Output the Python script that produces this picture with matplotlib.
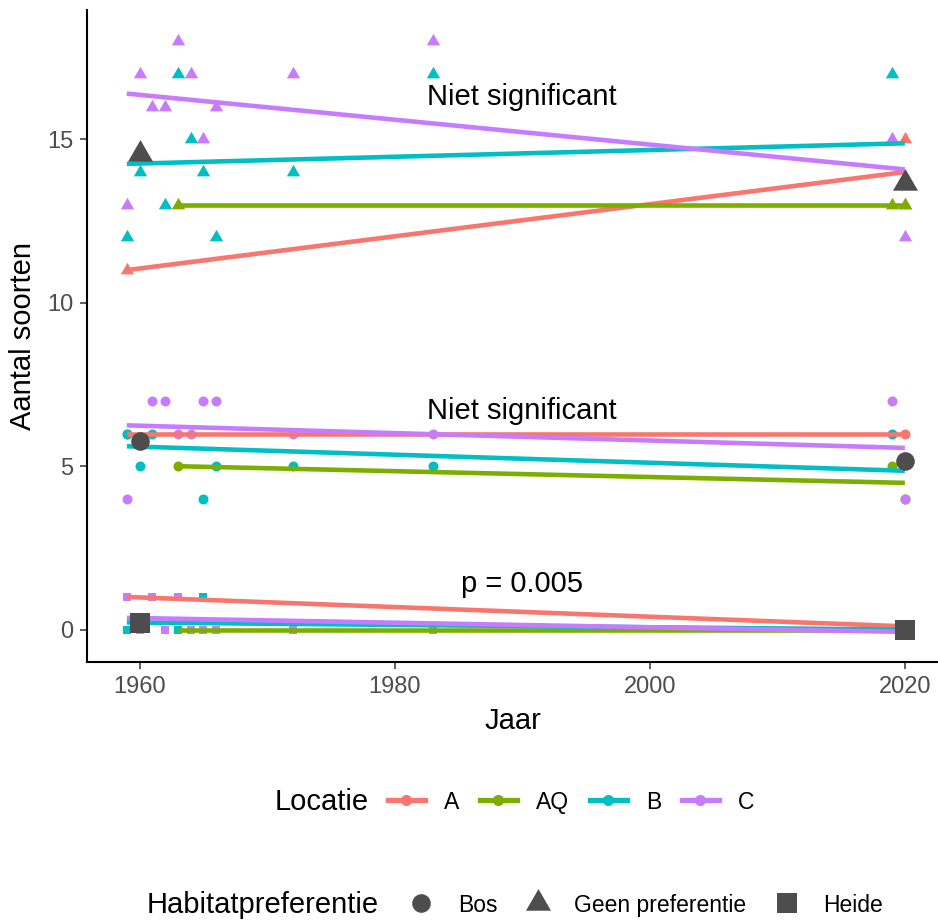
# -- coding: utf-8 --
import matplotlib
matplotlib.use('Agg')
import matplotlib.pyplot as plt
from matplotlib.lines import Line2D
from matplotlib.markers import MarkerStyle

plt.rcParams['font.family'] = ['Liberation Sans', 'DejaVu Sans']

# kleuren per locatie (ggplot standaard)
locaties = ['A', 'AQ', 'B', 'C']
kleuren = {'A': '#F8766D', 'AQ': '#7CAE00', 'B': '#00BFC4', 'C': '#C77CFF'}

# waarnemingen: (jaren, aantal soorten) per locatie
bos = {
    'A': ([1959, 2020], [6, 6]),
    'AQ': ([1963, 2019, 2020], [5, 5, 4]),
    'B': ([1959, 1960, 1961, 1965, 1966, 1972, 1983, 2019], [6, 5, 6, 4, 5, 5, 5, 6]),
    'C': ([1959, 1961, 1962, 1963, 1964, 1965, 1966, 1972, 1983, 2019, 2020],
          [4, 7, 7, 6, 6, 7, 7, 6, 6, 7, 4]),
}
geen_pref = {
    'A': ([1959, 2020, 2020], [11, 15, 13]),
    'AQ': ([1963, 2019, 2020], [13, 13, 13]),
    'B': ([1959, 1960, 1962, 1963, 1964, 1965, 1966, 1972, 1983, 2019],
          [12, 14, 13, 17, 15, 14, 12, 14, 17, 17]),
    'C': ([1959, 1960, 1961, 1962, 1963, 1964, 1965, 1966, 1972, 1983, 2019, 2020],
          [13, 17, 16, 16, 18, 17, 15, 16, 17, 18, 15, 12]),
}
heide = {
    'A': ([1959, 2020], [1, 0]),
    'AQ': ([1963, 2020], [0, 0]),
    'B': ([1959, 1963, 1965, 2020], [0, 0, 1, 0]),
    'C': ([1959, 1960, 1961, 1962, 1963, 1964, 1965, 1966, 1972, 1983, 2020],
          [1, 0, 1, 0, 1, 0, 0, 0, 0, 0, 0]),
}

trend_bos = {
    'A': ([1959, 2020], [6.0, 6.0]),
    'AQ': ([1963, 2020], [5.0, 4.49]),
    'B': ([1959, 2020], [5.61, 4.86]),
    'C': ([1959, 2020], [6.25, 5.56]),
}
trend_geen = {
    'A': ([1959, 2020], [11.0, 14.0]),
    'AQ': ([1963, 2020], [13.0, 13.0]),
    'B': ([1959, 2020], [14.25, 14.88]),
    'C': ([1959, 2020], [16.4, 14.08]),
}
trend_heide = {
    'A': ([1959, 2020], [1.0, 0.1]),
    'AQ': ([1963, 2020], [0.0, 0.0]),
    'B': ([1959, 2020], [0.22, 0.0]),
    'C': ([1959, 2020], [0.36, -0.07]),
}

# gemiddelden per habitat
gem_jaar = [1960, 2020]
gem_bos = [5.78, 5.15]
gem_geen = [14.54, 13.67]
gem_heide = [0.21, 0.0]

annotaties = [(1990, 16.3, 'Niet significant'),
              (1990, 6.7, 'Niet significant'),
              (1990, 1.4, 'p = 0.005')]

driehoek = MarkerStyle([(-1, -0.577), (1, -0.577), (0, 1.155)])
grijs = '#4D4D4D'

habitats = [
    (bos, trend_bos, gem_bos, 'o', 7.2, 13.4),
    (geen_pref, trend_geen, gem_geen, driehoek, 11.1, 20.8),
    (heide, trend_heide, gem_heide, 's', 6.0, 13.7),
]

fig = plt.figure(figsize=(9.38, 9.22), dpi=100)
ax = fig.add_axes([87.3 / 938, 1 - 662.3 / 922, 1 - 87.3 / 938, (662.3 - 9.6) / 922])

for data, trend, gem, marker, ms, ms_groot in habitats:
    for loc in locaties:
        x, y = data[loc]
        ax.plot(x, y, linestyle='none', marker=marker, markersize=ms,
                color=kleuren[loc], markeredgewidth=0, zorder=2)
    for loc in locaties:
        x, y = trend[loc]
        ax.plot(x, y, color=kleuren[loc], lw=3.3, solid_capstyle='butt', zorder=3)
    ax.plot(gem_jaar, gem, linestyle='none', marker=marker, markersize=ms_groot,
            color=grijs, markeredgewidth=0, zorder=4)

for x, y, tekst in annotaties:
    ax.text(x, y, tekst, fontsize=21, ha='center', va='center', color='black')

ax.set_xlim(1955.9, 2022.6)
ax.set_ylim(-1.0, 18.97)
ax.set_xticks([1960, 1980, 2000, 2020])
ax.set_yticks([0, 5, 10, 15])
for s in ['top', 'right']:
    ax.spines[s].set_visible(False)
for s in ['left', 'bottom']:
    ax.spines[s].set_linewidth(1.5)
ax.tick_params(direction='out', length=5, width=1.1, color='#333333',
               labelsize=17, labelcolor=grijs, pad=5)
ax.set_xlabel('Jaar', fontsize=21, labelpad=6)
ax.set_ylabel('Aantal soorten', fontsize=21, labelpad=7)

# legenda locatie
fig.text(275 / 938, 1 - 802 / 922, 'Locatie', fontsize=21, ha='left', va='center')
loc_handles = [Line2D([], [], color=kleuren[l], lw=3.8, marker='o', markersize=7)
               for l in locaties]
fig.legend(loc_handles, locaties, loc='center left', bbox_to_anchor=(388 / 938, 1 - 802 / 922),
           ncol=4, frameon=False, fontsize=16.5, handlelength=1.6, handletextpad=0.85,
           columnspacing=0.9, borderpad=0, borderaxespad=0)

# legenda habitatpreferentie
fig.text(147 / 938, 1 - 905 / 922, 'Habitatpreferentie', fontsize=21, ha='left', va='center')
hab_handles = [Line2D([], [], color=grijs, linestyle='none', marker=m, markersize=s,
                      markeredgewidth=0)
               for m, s in [('o', 13.4), (driehoek, 20.8), ('s', 13.7)]]
fig.legend(hab_handles, ['Bos', 'Geen preferentie', 'Heide'], loc='center left',
           bbox_to_anchor=(410 / 938, 1 - 905 / 922), ncol=3, frameon=False,
           fontsize=16.5, handlelength=1.0, handletextpad=1.1, columnspacing=1.25,
           borderpad=0, borderaxespad=0)

plt.savefig('out.png', dpi=100)
